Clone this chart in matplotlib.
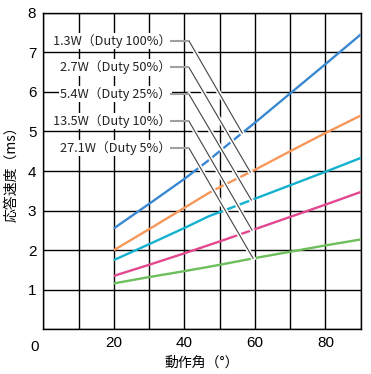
import matplotlib
matplotlib.use('Agg')
import matplotlib.pyplot as plt
import matplotlib.patheffects as pe
from matplotlib import font_manager
import numpy as np

plt.rcParams['font.family'] = ['Noto Sans CJK JP', 'DejaVu Sans']
names = {f.name for f in font_manager.fontManager.ttflist}
num_font = 'Liberation Sans Narrow' if 'Liberation Sans Narrow' in names else 'Liberation Sans'

# 動作角 (deg) and 応答速度 (ms)
angle = [20, 30, 40, 47, 50, 60, 70, 80, 90]
w1_3 = [2.55, 3.17, 3.80, 4.28, 4.50, 5.22, 5.96, 6.70, 7.45]
w2_7 = [2.00, 2.53, 3.07, 3.45, 3.59, 4.03, 4.50, 4.96, 5.40]
w5_4 = [1.75, 2.15, 2.56, 2.86, 2.96, 3.30, 3.64, 3.98, 4.33]
w13_5 = [1.35, 1.63, 1.92, 2.13, 2.22, 2.53, 2.84, 3.15, 3.47]
w27_1 = [1.16, 1.32, 1.47, 1.58, 1.63, 1.80, 1.96, 2.12, 2.27]

series = [w1_3, w2_7, w5_4, w13_5, w27_1]
colors = ['#3a88d2', '#f7975a', '#12b2cf', '#e2488f', '#6dbe5c']
labels = ['1.3W（Duty 100%）', '2.7W（Duty 50%）',
          '5.4W（Duty 25%）', '13.5W（Duty 10%）',
          '27.1W（Duty 5%）']
label_y = [7.29, 6.62, 5.94, 5.26, 4.58]
end_x = [56.4, 58.7, 59.0, 59.2, 59.5]

fig = plt.figure(figsize=(3.71, 3.74), dpi=100)
ax = fig.add_axes([0.1167, 0.1195, 0.9722 - 0.1167, 0.966 - 0.1195])

for s, c in zip(series, colors):
    ax.plot(angle, s, color=c, lw=1.7, zorder=3, solid_capstyle='butt')

halo = [pe.withStroke(linewidth=3.2, foreground='white')]
for s, lab, ly, ex in zip(series, labels, label_y, end_x):
    ey = np.interp(ex, angle, s)
    ax.text(36.2, ly, lab, ha='right', va='center', fontsize=9.2, zorder=5,
            color='#222222',
            bbox=dict(boxstyle='square,pad=0.1', fc='white', ec='none'))
    ax.plot([35.9, 41.3], [ly, ly], color='#a0a0a0', lw=1.5, zorder=6,
            solid_capstyle='butt')
    ax.plot([41.3, ex], [ly, ey], color='#444444', lw=0.8, zorder=4,
            path_effects=halo)

ax.set_xlim(0, 90)
ax.set_ylim(0, 8)
ax.set_xticks(range(0, 91, 10))
ax.set_xticklabels(['' if v == 0 or v % 20 else str(v) for v in range(0, 91, 10)])
ax.set_yticks(range(0, 9))
ax.set_yticklabels([''] + [str(v) for v in range(1, 9)])
ax.tick_params(length=0, labelsize=11, pad=5)
for t in ax.get_xticklabels() + ax.get_yticklabels():
    t.set_family(num_font)
ax.grid(True, color='black', lw=1.0, zorder=1)
ax.set_axisbelow(True)
for sp in ax.spines.values():
    sp.set_linewidth(1.0)
ax.text(-2.4, -0.26, '0', ha='center', va='top', fontsize=11, family=num_font)

ax.set_xlabel('動作角（°）', fontsize=10, labelpad=4)
ax.set_ylabel('応答速度（ms）', fontsize=10, labelpad=7)

fig.savefig('out.png', dpi=100)
